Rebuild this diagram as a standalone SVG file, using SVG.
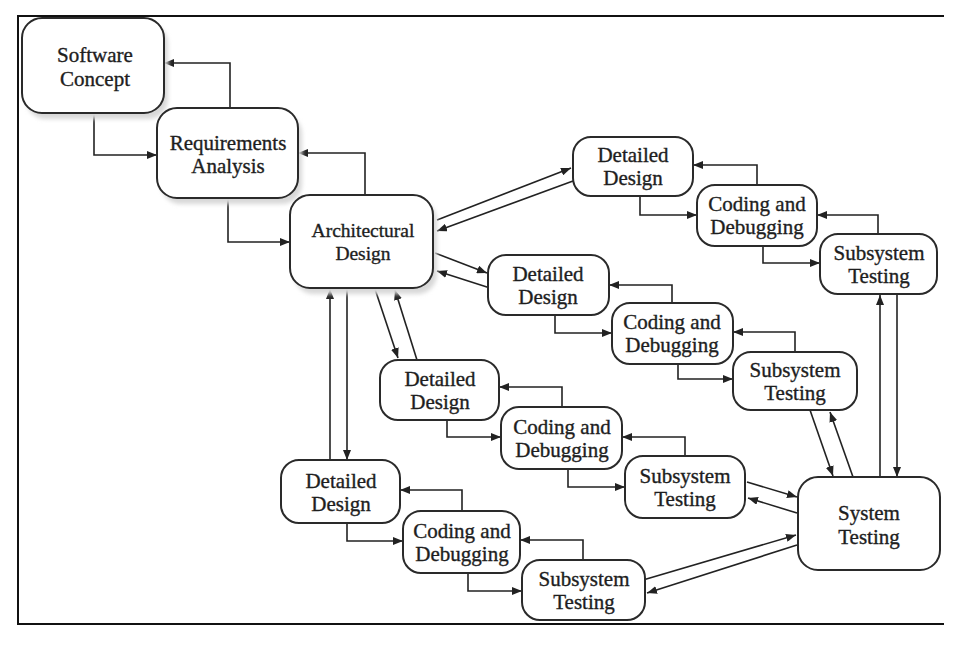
<svg xmlns="http://www.w3.org/2000/svg" width="970" height="645" viewBox="0 0 970 645">
<defs>
<marker id="ah" viewBox="0 0 10 8" refX="10" refY="4" markerWidth="10" markerHeight="8" markerUnits="userSpaceOnUse" orient="auto">
<path d="M0,0 L10,4 L0,8 z" fill="#222"/>
</marker>
<filter id="sh" x="-10%" y="-10%" width="130%" height="130%">
<feGaussianBlur stdDeviation="2"/>
</filter>
</defs>
<style>
.box{fill:#fff;stroke:#2a2a2a;stroke-width:2}
.shadow{fill:#d8d8d8;filter:url(#sh)}
.t{font-family:"Liberation Serif","Times New Roman",serif;font-size:21px;fill:#1e1e1e;stroke:#1e1e1e;stroke-width:0.35;text-anchor:middle}
.t19{font-size:19.5px}
.c{fill:none;stroke:#222;stroke-width:1.6;marker-end:url(#ah)}
.frame{stroke:#111;stroke-width:2;fill:none}
</style>
<rect width="970" height="645" fill="#fff"/>
<path class="frame" d="M944,16 L18,16 L18,624 L944,624"/>

<g id="connectors">
<path class="c" d="M94,113 V155 H157"/>
<path class="c" d="M230,108 V63 H164"/>
<path class="c" d="M228,198 V242 H290"/>
<path class="c" d="M365,195 V153 H298"/>
<path class="c" d="M437,220 L571,168"/>
<path class="c" d="M573,181 L437,231"/>
<path class="c" d="M435,253 L487,273"/>
<path class="c" d="M490,288 L437,271"/>
<path class="c" d="M375,289 L398,358"/>
<path class="c" d="M417,360 L395,290"/>
<path class="c" d="M330,460 V289"/>
<path class="c" d="M347,289 V460"/>
<path class="c" d="M640,196 V215 H697"/>
<path class="c" d="M757,185 V165 H693"/>
<path class="c" d="M763,246 V263 H820"/>
<path class="c" d="M878,234 V215 H817"/>
<path class="c" d="M555,315 V333 H612"/>
<path class="c" d="M672,303 V285 H609"/>
<path class="c" d="M678,364 V379 H733"/>
<path class="c" d="M795,352 V332 H733"/>
<path class="c" d="M447,420 V437 H501"/>
<path class="c" d="M562,407 V387 H499"/>
<path class="c" d="M568,469 V487 H625"/>
<path class="c" d="M685,456 V437 H622"/>
<path class="c" d="M347,523 V541 H403"/>
<path class="c" d="M462,511 V490 H400"/>
<path class="c" d="M468,573 V591 H522"/>
<path class="c" d="M583,560 V540 H520"/>
<path class="c" d="M880,477 V295"/>
<path class="c" d="M897,295 V477"/>
<path class="c" d="M810,410 L833,476"/>
<path class="c" d="M853,477 L830,412"/>
<path class="c" d="M747,482 L797,497"/>
<path class="c" d="M797,513 L748,498"/>
<path class="c" d="M643,580 L796,535"/>
<path class="c" d="M797,545 L647,593"/>
</g>

<g id="software-concept">
<rect class="shadow" x="26" y="24" width="142" height="95" rx="20"/>
<rect class="box" x="22" y="18" width="142" height="95" rx="20"/>
<text class="t" x="95" y="62">Software</text>
<text class="t" x="95" y="86">Concept</text>
</g>
<g id="requirements-analysis">
<rect class="shadow" x="161" y="114" width="141" height="90" rx="20"/>
<rect class="box" x="157" y="108" width="141" height="90" rx="20"/>
<text class="t" x="228" y="150">Requirements</text>
<text class="t" x="228" y="173">Analysis</text>
</g>
<g id="architectural-design">
<rect class="shadow" x="294" y="201" width="143" height="93" rx="20"/>
<rect class="box" x="290" y="195" width="143" height="93" rx="20"/>
<text class="t t19" x="363" y="237">Architectural</text>
<text class="t t19" x="363" y="260">Design</text>
</g>
<g id="detailed-design-1">
<rect class="box" x="573" y="137" width="120" height="59" rx="18"/>
<text class="t" x="633" y="162">Detailed</text>
<text class="t" x="633" y="185">Design</text>
</g>
<g id="coding-debugging-1">
<rect class="box" x="697" y="185" width="120" height="61" rx="18"/>
<text class="t" x="757" y="211">Coding and</text>
<text class="t" x="757" y="234">Debugging</text>
</g>
<g id="subsystem-testing-1">
<rect class="box" x="820" y="234" width="117" height="60" rx="18"/>
<text class="t" x="879" y="260">Subsystem</text>
<text class="t" x="879" y="283">Testing</text>
</g>
<g id="detailed-design-2">
<rect class="box" x="488" y="255" width="121" height="60" rx="18"/>
<text class="t" x="548" y="281">Detailed</text>
<text class="t" x="548" y="304">Design</text>
</g>
<g id="coding-debugging-2">
<rect class="box" x="612" y="303" width="121" height="61" rx="18"/>
<text class="t" x="672" y="329">Coding and</text>
<text class="t" x="672" y="352">Debugging</text>
</g>
<g id="subsystem-testing-2">
<rect class="box" x="733" y="352" width="124" height="58" rx="18"/>
<text class="t" x="795" y="377">Subsystem</text>
<text class="t" x="795" y="400">Testing</text>
</g>
<g id="detailed-design-3">
<rect class="box" x="380" y="360" width="119" height="60" rx="18"/>
<text class="t" x="440" y="386">Detailed</text>
<text class="t" x="440" y="409">Design</text>
</g>
<g id="coding-debugging-3">
<rect class="box" x="501" y="407" width="121" height="62" rx="18"/>
<text class="t" x="562" y="434">Coding and</text>
<text class="t" x="562" y="457">Debugging</text>
</g>
<g id="subsystem-testing-3">
<rect class="box" x="625" y="456" width="120" height="62" rx="18"/>
<text class="t" x="685" y="483">Subsystem</text>
<text class="t" x="685" y="506">Testing</text>
</g>
<g id="detailed-design-4">
<rect class="box" x="281" y="460" width="119" height="63" rx="18"/>
<text class="t" x="341" y="488">Detailed</text>
<text class="t" x="341" y="511">Design</text>
</g>
<g id="coding-debugging-4">
<rect class="box" x="403" y="511" width="117" height="62" rx="18"/>
<text class="t" x="462" y="538">Coding and</text>
<text class="t" x="462" y="561">Debugging</text>
</g>
<g id="subsystem-testing-4">
<rect class="box" x="522" y="560" width="123" height="60" rx="18"/>
<text class="t" x="584" y="586">Subsystem</text>
<text class="t" x="584" y="609">Testing</text>
</g>
<g id="system-testing">
<rect class="box" x="798" y="477" width="142" height="93" rx="20"/>
<text class="t" x="869" y="520">System</text>
<text class="t" x="869" y="544">Testing</text>
</g>
</svg>
